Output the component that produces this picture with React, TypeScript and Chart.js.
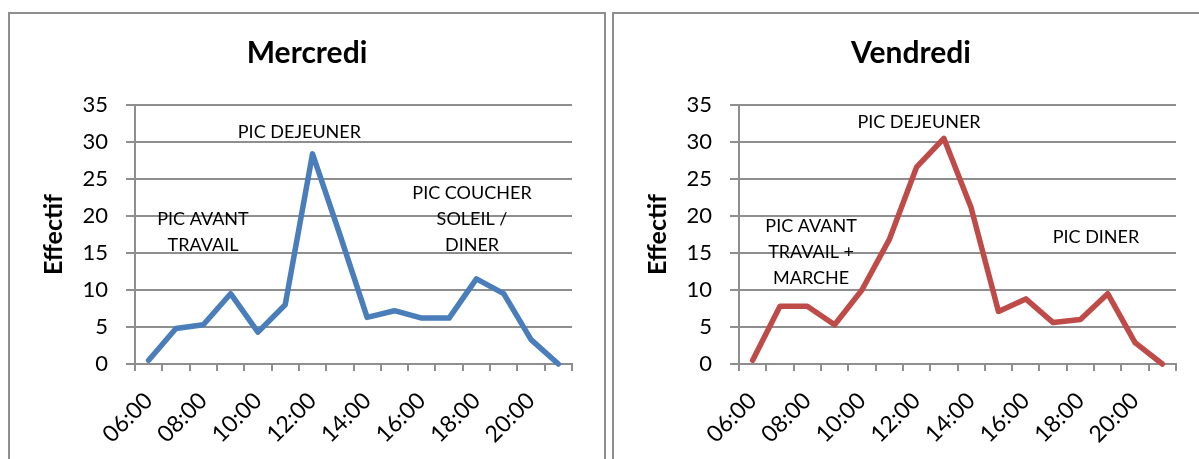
import React, { useEffect, useRef } from 'react';
import { Chart, registerables } from 'chart.js';

Chart.register(...registerables);

const hours = ['06:00', '07:00', '08:00', '09:00', '10:00', '11:00', '12:00', '13:00', '14:00', '15:00', '16:00', '17:00', '18:00', '19:00', '20:00', '21:00'];
const mercredi = [0.5, 4.8, 5.3, 9.5, 4.3, 8.0, 28.4, 17.5, 6.3, 7.2, 6.2, 6.2, 11.5, 9.5, 3.3, 0];
const vendredi = [0.5, 7.8, 7.8, 5.3, 10.0, 16.8, 26.6, 30.5, 21.1, 7.1, 8.8, 5.6, 6.0, 9.5, 2.9, 0];
const yMin = 0;
const yMax = 35;
const yStep = 5;
const yTitle = 'Effectif';

type Note = { lines: string[]; at: number; value: number };

const mercrediNotes: Note[] = [
  { lines: ['PIC AVANT', 'TRAVAIL'], at: 1.99, value: 19.6 },
  { lines: ['PIC DEJEUNER'], at: 5.52, value: 31.35 },
  { lines: ['PIC COUCHER', 'SOLEIL /', 'DINER'], at: 11.84, value: 23.1 },
];
const vendrediNotes: Note[] = [
  { lines: ['PIC AVANT', 'TRAVAIL +', 'MARCHE'], at: 2.14, value: 18.65 },
  { lines: ['PIC DEJEUNER'], at: 6.09, value: 32.7 },
  { lines: ['PIC DINER'], at: 12.57, value: 17.16 },
];

const FONT = 'Lato, "Open Sans", sans-serif';
const GRID = '#8e8e8e';
const CW = 594;
const CH = 445;

function ChartBox({ title, values, color, notes, left }: { title: string; values: number[]; color: string; notes: Note[]; left: number }) {
  const ref = useRef<HTMLCanvasElement | null>(null);
  useEffect(() => {
    if (!ref.current) return;
    const notesPlugin = {
      id: 'notes',
      afterDraw(chart: any) {
        const { ctx, scales } = chart;
        const x = scales.x;
        const y = scales.y;
        ctx.save();
        ctx.font = `18px ${FONT}`;
        ctx.fillStyle = '#000';
        ctx.textAlign = 'center';
        ctx.textBaseline = 'middle';
        for (const n of notes) {
          const px = x.getPixelForValue(n.at);
          const py = y.getPixelForValue(n.value);
          n.lines.forEach((t, i) => ctx.fillText(t, px, py + i * 26));
        }
        ctx.restore();
      },
    };
    const chart = new Chart(ref.current, {
      type: 'line',
      data: {
        labels: hours,
        datasets: [
          {
            data: values,
            borderColor: color,
            backgroundColor: color,
            borderWidth: 5.5,
            pointRadius: 0,
            tension: 0,
            borderJoinStyle: 'round',
            borderCapStyle: 'round',
            clip: false as any,
          },
        ],
      },
      options: {
        animation: false,
        responsive: false,
        layout: { padding: 0 },
        plugins: {
          legend: { display: false },
          tooltip: { enabled: false },
          title: {
            display: true,
            text: title,
            color: '#000',
            font: { family: FONT, size: 30, weight: 'bold' },
            padding: { top: 21, bottom: 34 },
          },
        },
        scales: {
          x: {
            type: 'category',
            offset: true,
            grid: { offset: true, drawOnChartArea: false, drawTicks: true, tickLength: 7, color: GRID, lineWidth: 2 },
            border: { display: true, color: GRID, width: 2 },
            ticks: {
              autoSkip: false,
              minRotation: 45,
              maxRotation: 45,
              padding: 16,
              color: '#000',
              font: { family: FONT, size: 23 },
              callback: (_v: any, i: number) => (i % 2 === 0 ? hours[i] : ''),
            },
            afterFit: (s: any) => {
              s.height = 95;
            },
          },
          y: {
            min: yMin,
            max: yMax,
            ticks: { stepSize: yStep, padding: 18, color: '#000', font: { family: FONT, size: 22 } },
            grid: { color: GRID, lineWidth: 2, tickLength: 9 },
            border: { display: true, color: GRID, width: 2 },
            title: {
              display: true,
              text: yTitle,
              color: '#000',
              font: { family: FONT, size: 25, weight: 'bold' },
              padding: { top: 29, bottom: 0 },
            },
            afterFit: (s: any) => {
              s.width = 125;
            },
          },
          yR: {
            position: 'right',
            display: true,
            grid: { display: false, drawTicks: false },
            border: { display: false },
            ticks: { display: false },
            afterFit: (s: any) => {
              s.width = 32;
            },
          },
        },
      } as any,
      plugins: [notesPlugin],
    });
    return () => chart.destroy();
  }, [title, values, color, notes]);

  return (
    <div
      style={{
        position: 'absolute',
        left,
        top: 12,
        width: 598,
        height: 470,
        border: `2px solid ${GRID}`,
        boxSizing: 'border-box',
        background: '#fff',
      }}
    >
      <canvas ref={ref} width={CW} height={CH} style={{ position: 'absolute', left: 0, top: 0, width: CW, height: CH }} />
    </div>
  );
}

export default function App() {
  return (
    <div style={{ position: 'fixed', left: 0, top: 0, width: 1199, height: 459, overflow: 'hidden', background: '#fff' }}>
      <ChartBox title="Mercredi" values={mercredi} color="#4a7ebb" notes={mercrediNotes} left={8} />
      <ChartBox title="Vendredi" values={vendredi} color="#be4b48" notes={vendrediNotes} left={612} />
    </div>
  );
}
